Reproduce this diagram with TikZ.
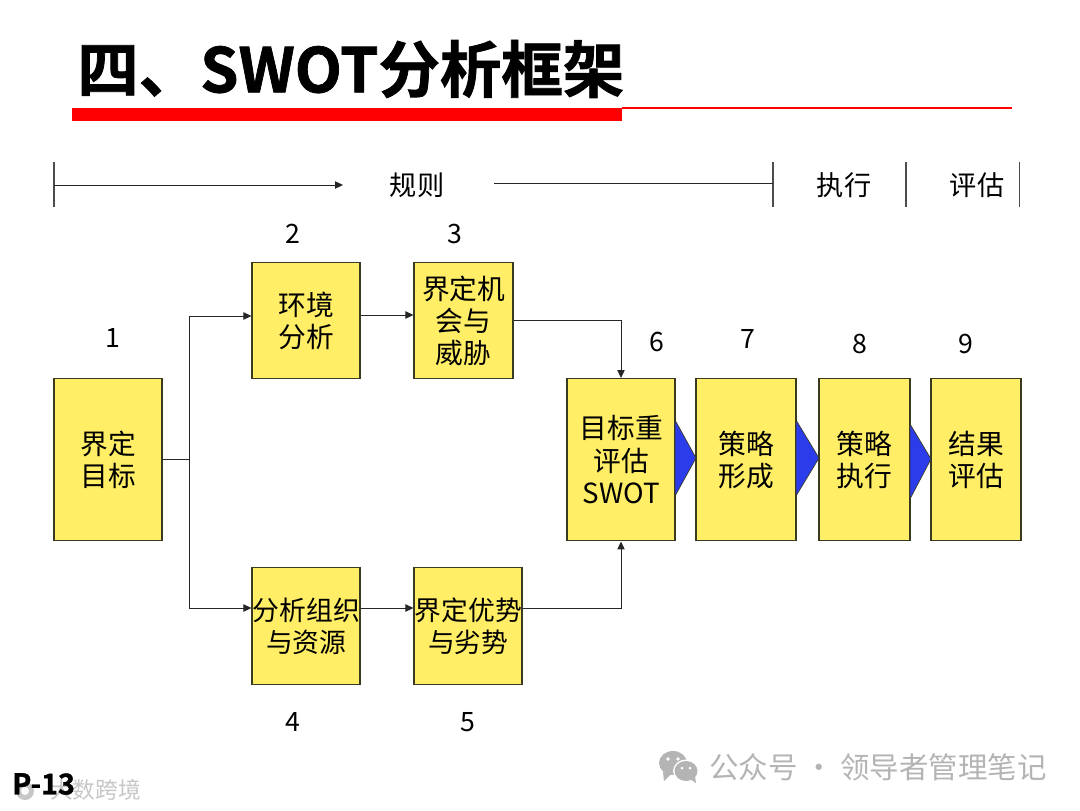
\documentclass[tikz,border=0pt]{standalone}
\usepackage{fontspec}
\setmainfont{Noto Sans CJK SC}
\newfontfamily\boldcjk[FakeBold=1.2]{Noto Sans CJK SC Bold}
\usetikzlibrary{arrows.meta}
\definecolor{boxyellow}{HTML}{FFEE66}
\definecolor{boxline}{HTML}{3A3A20}
\definecolor{tribl}{HTML}{2B3CEB}
\definecolor{wmgray}{HTML}{B4B4B4}
\tikzset{
  box/.style={draw=boxline,line width=1.1pt,fill=boxyellow,minimum width=0pt,inner sep=0pt,align=center,font=\fontsize{20.8}{24.2}\selectfont,anchor=north west,xshift=-0.4pt},
  widebox/.style={box,font=\fontsize{20.1}{24.2}\selectfont},
  num/.style={font=\fontsize{20}{24}\selectfont,inner sep=0pt,xshift=0.6pt},
  head/.style={font=\fontsize{20.4}{24}\selectfont,inner sep=0pt},
  conn/.style={line width=0.75pt,color=black!85,-{Triangle[length=6pt,width=5.5pt]}},
  plainline/.style={line width=0.75pt,color=black!85},
  tick/.style={line width=0.8pt,color=black!70},
  tri/.style={fill=tribl,draw=boxline,line width=0.5pt,line join=miter},
  wm/.style={color=wmgray,inner sep=0pt,anchor=west}
}
\newcommand{\pbox}[6]{\node[box,minimum width=#4*0.75pt-#2*0.75pt,minimum height=#5*0.75pt-#3*0.75pt] (#1) at (#2,#3) {#6};}
\newcommand{\wbox}[6]{\node[widebox,minimum width=#4*0.75pt-#2*0.75pt,minimum height=#5*0.75pt-#3*0.75pt] (#1) at (#2,#3) {#6};}
\begin{document}
\begin{tikzpicture}[x=0.75pt,y=-0.75pt]
\useasboundingbox (0,0) rectangle (1080,810);
\fill[white] (0,0) rectangle (1080,810);
% title
\node[anchor=west,inner sep=0pt,font=\fontsize{46.1}{50}\boldcjk] (title) at (77,69) {四、SWOT分析框架};
\fill[red] (72,108) rectangle (622,121);
\draw[red,line width=0.8pt] (622,108) -- (1012,108);
% top bar
\draw[tick] (54,162) -- (54,207);
\draw[tick] (773,162) -- (773,207);
\draw[tick] (906,162) -- (906,207);
\draw[tick,line width=0.5pt] (1019,162) -- (1019,207);
\node[head] (hplan) at (417,185) {规则};
\node[head] (hexec) at (844,185) {执行};
\node[head] (heval) at (977,185) {评估};
\coordinate (tl) at (54,185);
\coordinate (ta) at (343,185);
\coordinate (tb) at (494,183);
\coordinate (tc) at (773,183);
\draw[conn] (tl) -- (ta);
\draw[plainline] (tb) -- (tc);
% boxes
\pbox{n1}{54}{378}{162}{540}{界定\\目标}
\pbox{n2}{252}{262}{360}{378}{环境\\分析}
\pbox{n3}{414}{262}{513}{378}{界定机\\会与\\威胁}
\wbox{n4}{252}{567}{360}{684}{分析组织\\与资源}
\wbox{n5}{414}{567}{522}{684}{界定优势\\与劣势}
\pbox{n6}{567}{378}{675}{540}{目标重\\评估\\SWOT}
\pbox{n7}{696}{378}{796}{540}{策略\\形成}
\pbox{n8}{819}{378}{910}{540}{策略\\执行}
\pbox{n9}{931}{378}{1021}{540}{结果\\评估}
% numbers
\node[num] (l1) at (112,338) {1};
\node[num] (l2) at (292,234) {2};
\node[num] (l3) at (454,234) {3};
\node[num] (l4) at (292,722) {4};
\node[num] (l5) at (467,722) {5};
\node[num] (l6) at (656,342) {6};
\node[num] (l7) at (747,339) {7};
\node[num] (l8) at (859,344) {8};
\node[num] (l9) at (965,344) {9};
% connectors
\coordinate (jm) at (189,459);
\coordinate (jt) at (189,316);
\coordinate (jb) at (189,608);
\coordinate (c3) at (621,320);
\coordinate (c5) at (621,608);
\draw[plainline] (n1.east |- jm) -- (jm);
\draw[plainline] (jt) -- (jb);
\draw[conn] (jt) -- (n2.west |- jt);
\draw[conn] (jb) -- (n4.west |- jb);
\draw[conn] (n2.east |- 0,315) -- (n3.west |- 0,315);
\draw[conn] (n4.east |- 0,608) -- (n5.west |- 0,608);
\draw[conn] (n3.east |- c3) -- (c3) -- (n6.north -| c3);
\draw[conn] (n5.east |- c5) -- (c5) -- (n6.south -| c5);
% blue triangles
\draw[tri] (675,420) -- (696,458) -- (675,496) -- cycle;
\draw[tri] (796,420) -- (819,458) -- (796,496) -- cycle;
\draw[tri] (910,424) -- (931,459) -- (910,499) -- cycle;
% page label and watermarks
\node[wm,font=\fontsize{17}{20}\selectfont,color=black!22] (wmk) at (50,790) {大数跨境};
\fill[black!22] (25,791) circle (9);
\fill[white] (25,791) circle (4);
\node[anchor=west,inner sep=0pt,font=\fontsize{21.5}{24}\boldcjk] (page) at (12,784) {P-13};
\fill[wmgray] (673,763) ellipse (14 and 12);
\fill[wmgray] (663,772) -- (664,781) -- (671,774) -- cycle;
\fill[white] (686,771) ellipse (13 and 11.5);
\fill[wmgray] (686,771) ellipse (11.5 and 10);
\fill[wmgray] (690,779) -- (696,783) -- (695,776) -- cycle;
\fill[white] (668,759) circle (1.8) (678,759) circle (1.8) (682,768) circle (1.5) (690,768) circle (1.5);
\node[wm,font=\fontsize{22.1}{24}\selectfont] (wmt) at (709,767) {公众号 · 领导者管理笔记};
\end{tikzpicture}
\end{document}
